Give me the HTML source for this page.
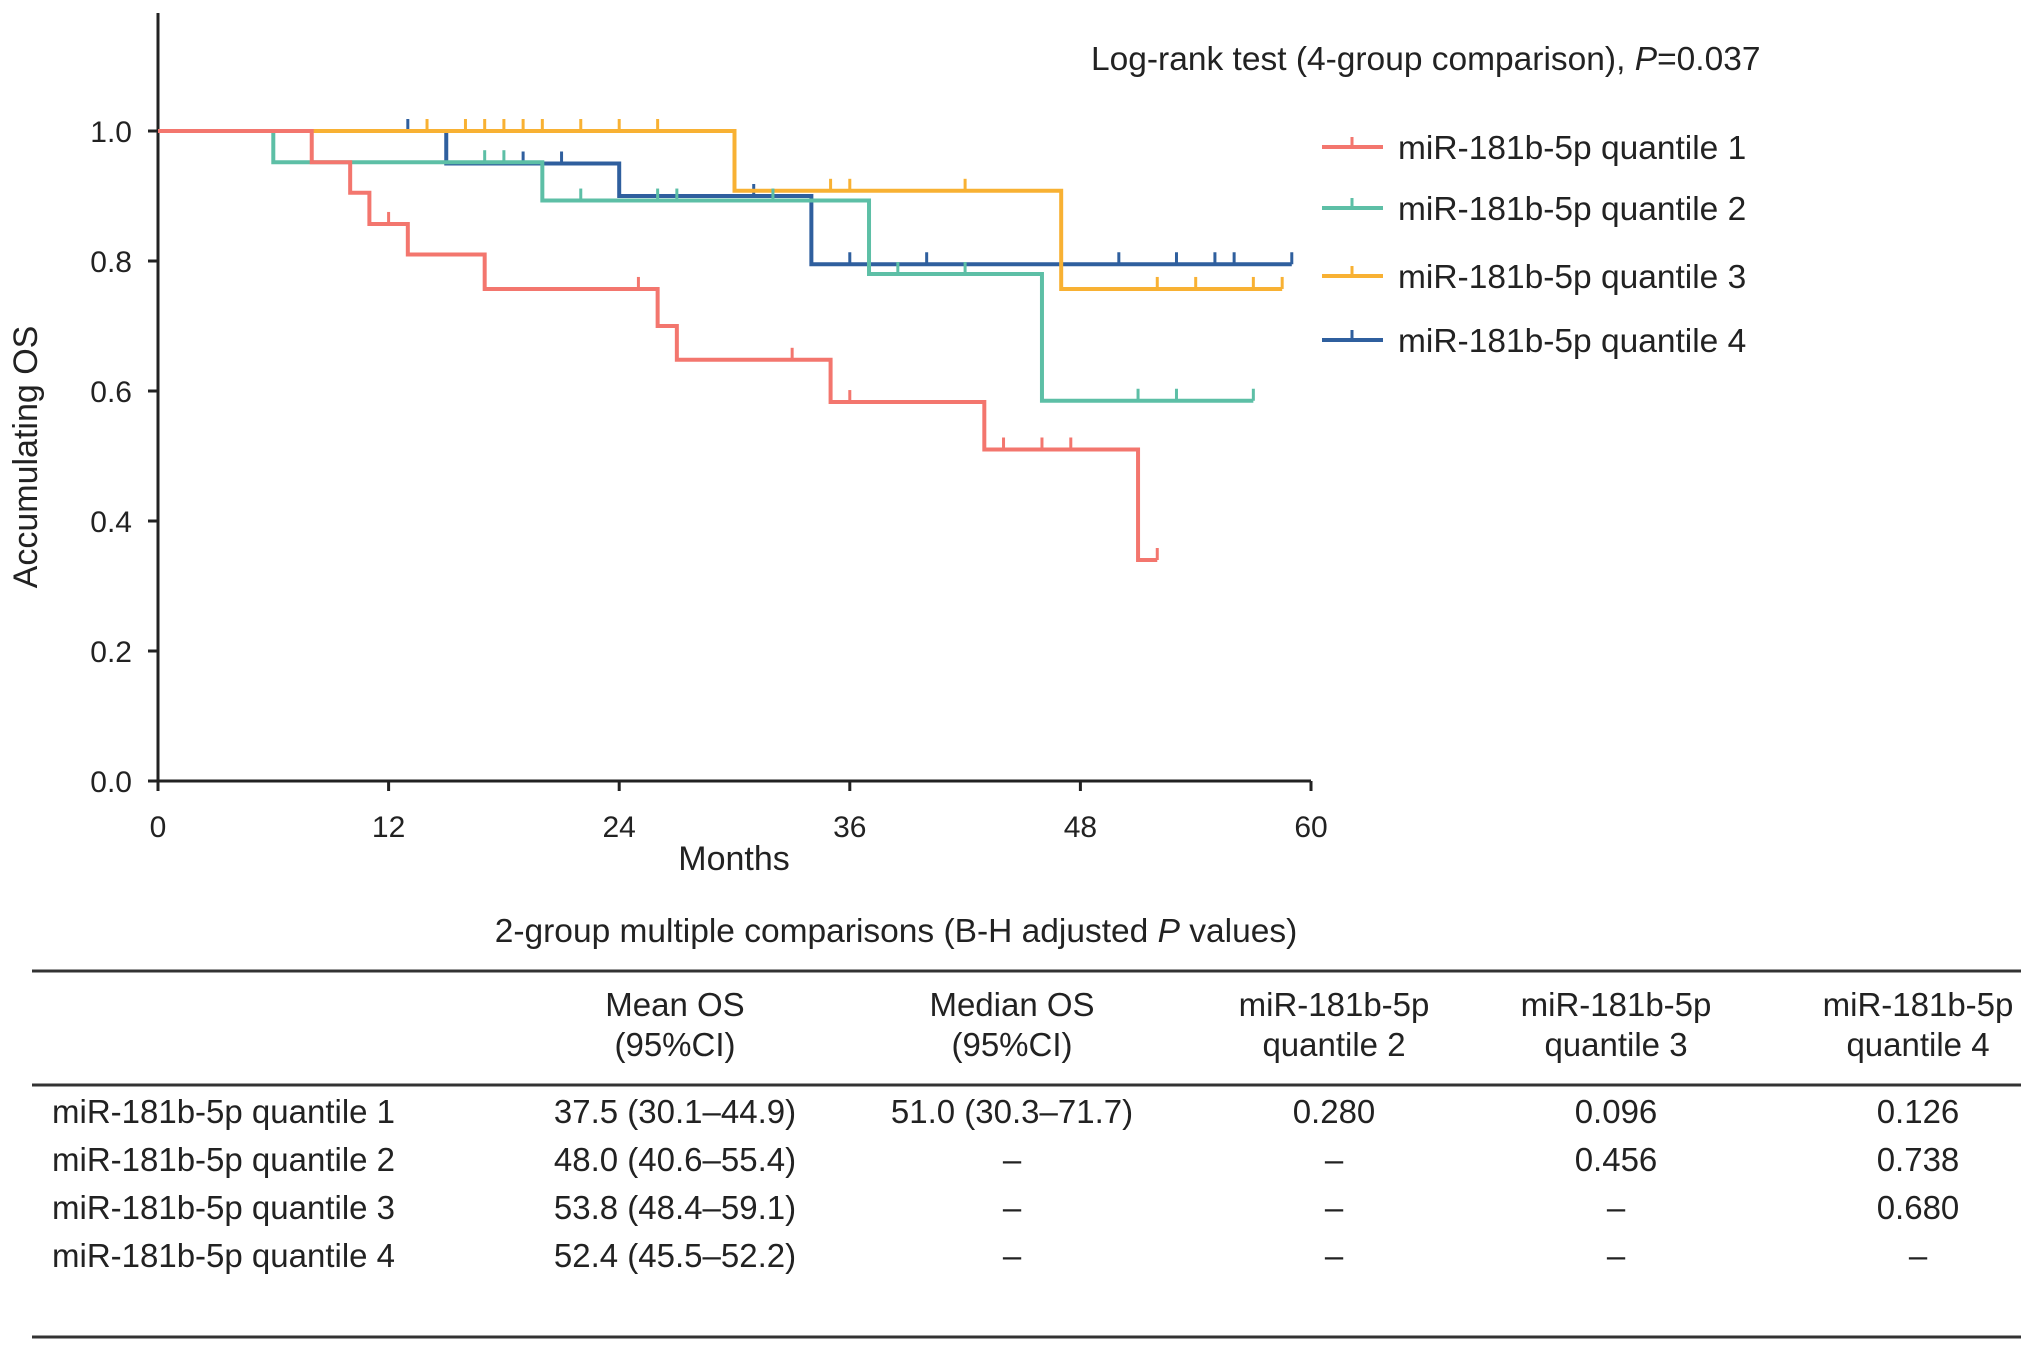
<!DOCTYPE html>
<html><head><meta charset="utf-8"><style>
html,body{margin:0;padding:0;background:#fff;}
body{width:2032px;height:1349px;overflow:hidden;font-family:"Liberation Sans",sans-serif;}
svg text{font-family:"Liberation Sans",sans-serif;fill:#222;}
</style></head><body>
<svg id="chart" width="2032" height="1349" xmlns="http://www.w3.org/2000/svg">
<g id="plot"></g>
<text x="0" y="0" transform="translate(37,457) rotate(-90)" text-anchor="middle" font-size="34">Accumulating OS</text>
<text x="734" y="870" text-anchor="middle" font-size="34">Months</text>
<text x="1091" y="70" font-size="33.5">Log-rank test (4-group comparison), <tspan font-style="italic">P</tspan>=0.037</text>
<g id="legend"></g>
<text x="896" y="942" text-anchor="middle" font-size="33.5">2-group multiple comparisons (B-H adjusted <tspan font-style="italic">P</tspan> values)</text>
<line x1="32" y1="971" x2="2021" y2="971" stroke="#333" stroke-width="3"/>
<line x1="32" y1="1085" x2="2021" y2="1085" stroke="#333" stroke-width="3"/>
<line x1="32" y1="1337" x2="2021" y2="1337" stroke="#333" stroke-width="3"/>
<g id="table"></g>
</svg>
<script>
const xTicks=[0,12,24,36,48,60];
const yTicks=[0.0,0.2,0.4,0.6,0.8,1.0];
const seriesNames=["miR-181b-5p quantile 1","miR-181b-5p quantile 2","miR-181b-5p quantile 3","miR-181b-5p quantile 4"];
const colors=["#f3766e","#5dbfa6","#f8b133","#2f5f9e"];
const q1Times=[0,8,10,11,13,17,26,27,35,43,51,52];
const q1Surv=[1.0,0.952,0.905,0.857,0.81,0.757,0.70,0.648,0.583,0.51,0.34,0.34];
const q1Cens=[[12,0.857],[25,0.757],[33,0.648],[36,0.583],[44,0.51],[46,0.51],[47.5,0.51],[52,0.34]];
const q2Times=[0,6,20,37,46,57];
const q2Surv=[1.0,0.952,0.893,0.78,0.585,0.585];
const q2Cens=[[17,0.952],[18,0.952],[22,0.893],[26,0.893],[27,0.893],[32,0.893],[38.5,0.78],[42,0.78],[51,0.585],[53,0.585],[57,0.585]];
const q3Times=[0,30,47,58.5];
const q3Surv=[1.0,0.908,0.757,0.757];
const q3Cens=[[14,1],[16,1],[17,1],[18,1],[19,1],[20,1],[22,1],[24,1],[26,1],[35,0.908],[36,0.908],[42,0.908],[52,0.757],[54,0.757],[57,0.757],[58.5,0.757]];
const q4Times=[0,15,24,34,59];
const q4Surv=[1.0,0.95,0.90,0.795,0.795];
const q4Cens=[[13,1],[19,0.95],[21,0.95],[31,0.90],[36,0.795],[40,0.795],[50,0.795],[53,0.795],[55,0.795],[56,0.795],[59,0.795]];
const tableHeaders=[["Mean OS","(95%CI)"],["Median OS","(95%CI)"],["miR-181b-5p","quantile 2"],["miR-181b-5p","quantile 3"],["miR-181b-5p","quantile 4"]];
const tableRows=[
["miR-181b-5p quantile 1","37.5 (30.1–44.9)","51.0 (30.3–71.7)","0.280","0.096","0.126"],
["miR-181b-5p quantile 2","48.0 (40.6–55.4)","–","–","0.456","0.738"],
["miR-181b-5p quantile 3","53.8 (48.4–59.1)","–","–","–","0.680"],
["miR-181b-5p quantile 4","52.4 (45.5–52.2)","–","–","–","–"]];

const NS="http://www.w3.org/2000/svg";
const X0=158,X1=1311,Y0=781,Y1=131;
const sx=v=>X0+(v-0)/(60-0)*(X1-X0);
const sy=v=>Y0-(v-0)/(1-0)*(Y0-Y1);
function mk(tag,attrs,parent){const e=document.createElementNS(NS,tag);for(const k in attrs)e.setAttribute(k,attrs[k]);parent.appendChild(e);return e;}
const plot=document.getElementById('plot');
let ax=mk('line',{x1:X0,y1:13,x2:X0,y2:Y0,stroke:'#222','stroke-width':3},plot);


ax=mk('line',{x1:X0,y1:Y0,x2:X1,y2:Y0,stroke:'#222','stroke-width':3},plot);


xTicks.forEach(t=>{
 const l=mk('line',{x1:sx(t),y1:Y0,x2:sx(t),y2:Y0+10,stroke:'#222','stroke-width':3},plot);
 
 
 const tx=mk('text',{x:sx(t),y:837,'text-anchor':'middle','font-size':30},plot);tx.textContent=t;
 
 
});
yTicks.forEach(t=>{
 const l=mk('line',{x1:X0-10,y1:sy(t),x2:X0,y2:sy(t),stroke:'#222','stroke-width':3},plot);
 
 
 const tx=mk('text',{x:132,y:sy(t)+11,'text-anchor':'end','font-size':30},plot);tx.textContent=t.toFixed(1);
 
 
});
const allT=[q1Times,q2Times,q3Times,q4Times],allS=[q1Surv,q2Surv,q3Surv,q4Surv],allC=[q1Cens,q2Cens,q3Cens,q4Cens];
[3,2,1,0].forEach(i=>{
 const T=allT[i],S=allS[i];
 let d='M'+sx(T[0])+','+sy(S[0]);
 for(let k=1;k<T.length;k++){d+=' H'+sx(T[k])+' V'+sy(S[k]);}
 const p=mk('path',{d:d,fill:'none',stroke:colors[i],'stroke-width':4},plot);
 
 
 allC[i].forEach(c=>{
  const m=mk('line',{x1:sx(c[0]),y1:sy(c[1]),x2:sx(c[0]),y2:sy(c[1])-12,stroke:colors[i],'stroke-width':3},plot);
  
  
 });
});
const leg=document.getElementById('legend');
const legY=[147,208,276,340];
seriesNames.forEach((n,i)=>{
 const g=mk('g',{},leg);
 
 
 mk('line',{x1:1322,y1:legY[i],x2:1383,y2:legY[i],stroke:colors[i],'stroke-width':4},g);
 mk('line',{x1:1352,y1:legY[i],x2:1352,y2:legY[i]-10,stroke:colors[i],'stroke-width':3},g);
 const t=mk('text',{x:1398,y:legY[i]+12,'font-size':33.5},g);t.textContent=n;
});
const tb=document.getElementById('table');
const colX=[675,1012,1334,1616,1918];
tableHeaders.forEach((h,i)=>{
 [1016,1056].forEach((y,j)=>{const t=mk('text',{x:colX[i],y:y,'text-anchor':'middle','font-size':33},tb);t.textContent=h[j];
 
 });
});
const rowY=[1123,1171,1219,1267];
tableRows.forEach((r,ri)=>{
 r.forEach((c,ci)=>{
  const t=ci===0?mk('text',{x:52,y:rowY[ri],'font-size':33},tb):mk('text',{x:colX[ci-1],y:rowY[ri],'text-anchor':'middle','font-size':33},tb);
  t.textContent=c;
  
  
 });
});
</script>
</body></html>
